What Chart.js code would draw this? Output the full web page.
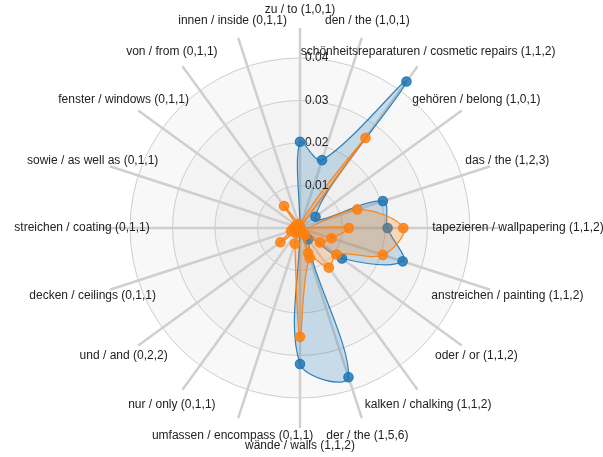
<!DOCTYPE html>
<html>
<head>
<meta charset="utf-8">
<title>Radar</title>
<script src="https://cdn.jsdelivr.net/npm/chart.js@4.4.0/dist/chart.umd.min.js"></script>
<style>
  html, body { margin: 0; padding: 0; background: #fff; }
  #wrap { width: 603px; height: 457px; }
</style>
</head>
<body>
<div id="wrap"><canvas id="chart" width="603" height="457"></canvas></div>
<script>
// categories, clockwise from the top
const categories = [
  "zu / to (1,0,1)",
  "den / the (1,0,1)",
  "schönheitsreparaturen / cosmetic repairs (1,1,2)",
  "gehören / belong (1,0,1)",
  "das / the (1,2,3)",
  "tapezieren / wallpapering (1,1,2)",
  "anstreichen / painting (1,1,2)",
  "oder / or (1,1,2)",
  "kalken / chalking (1,1,2)",
  "der / the (1,5,6)",
  "wände / walls (1,1,2)",
  "umfassen / encompass (0,1,1)",
  "nur / only (0,1,1)",
  "und / and (0,2,2)",
  "decken / ceilings (0,1,1)",
  "streichen / coating (0,1,1)",
  "sowie / as well as (0,1,1)",
  "fenster / windows (0,1,1)",
  "von / from (0,1,1)",
  "innen / inside (0,1,1)"
];

// values
const blueValues = [0.0203, 0.0168, 0.0426, 0.0045, 0.0205, 0.0206, 0.0254, 0.0122, 0.0033, 0.0369,
                    0.0320, 0, 0, 0, 0, 0, 0, 0, 0, 0];
const orangeValues = [0, 0, 0.0262, 0, 0.0142, 0.0243, 0.0205, 0.0106, 0.0115, 0.0074,
                      0.0256, 0.0039, 0.0015, 0.0057, 0.0022, 0.0015, 0.0012, 0.001, 0.0064, 0.001];
const orangeInnerValues = [0, 0, 0, 0, 0, 0.0115, 0.0078, 0.0058, 0.002, 0.0062,
                           0, 0, 0, 0, 0, 0, 0, 0, 0, 0];

const tickValues = [0.01, 0.02, 0.03, 0.04];
const tickLabels = ["0.01", "0.02", "0.03", "0.04"];
const axisMax = 0.04706; // spokes run a bit past the 0.04 ring

const FONT = '"Liberation Sans", Arial, Helvetica, sans-serif';
Chart.defaults.font.family = FONT;

// shaded rings, tick labels and centred spoke labels
const radarDecor = {
  id: "radarDecor",
  beforeDraw(chart) {
    const r = chart.scales.r;
    const ctx = chart.ctx;
    const shades = ["#ededed", "#f0f0f0", "#f4f4f4", "#f8f8f8"];
    ctx.save();
    for (let i = tickValues.length - 1; i >= 0; i--) {
      ctx.beginPath();
      ctx.arc(r.xCenter, r.yCenter, r.getDistanceFromCenterForValue(tickValues[i]), 0, Math.PI * 2);
      ctx.fillStyle = shades[i];
      ctx.fill();
    }
    ctx.restore();
  },
  afterDraw(chart) {
    const r = chart.scales.r;
    const ctx = chart.ctx;
    ctx.save();
    ctx.font = "12px " + FONT;
    ctx.fillStyle = "#222";
    ctx.textBaseline = "middle";

    ctx.textAlign = "left";
    tickValues.forEach((v, i) => {
      ctx.fillText(tickLabels[i], r.xCenter + 5, r.yCenter - r.getDistanceFromCenterForValue(v));
    });

    ctx.textAlign = "center";
    const labelDist = r.drawingArea + 18;
    categories.forEach((label, i) => {
      const p = r.getPointPosition(i, labelDist);
      ctx.fillText(label, p.x, p.y);
    });
    ctx.restore();
  }
};

new Chart(document.getElementById("chart"), {
  type: "radar",
  data: {
    labels: categories,
    datasets: [
      {
        label: "B2",
        data: orangeInnerValues,
        borderColor: "rgba(255,127,14,0.9)",
        backgroundColor: "rgba(255,127,14,0.2)",
        pointBackgroundColor: "rgba(255,127,14,0.85)",
        borderWidth: 1.3
      },
      {
        label: "B",
        data: orangeValues,
        borderColor: "rgba(255,127,14,0.9)",
        backgroundColor: "rgba(255,127,14,0.24)",
        pointBackgroundColor: "rgba(255,127,14,0.85)",
        borderWidth: 1.3
      },
      {
        label: "A",
        data: blueValues,
        borderColor: "rgba(31,119,180,0.9)",
        backgroundColor: "rgba(31,119,180,0.22)",
        pointBackgroundColor: "rgba(31,119,180,0.85)",
        borderWidth: 1.2
      }
    ]
  },
  options: {
    responsive: false,
    devicePixelRatio: 1,
    animation: false,
    layout: { padding: { top: 28, bottom: 29, left: 0, right: 3 } },
    elements: {
      line: { tension: 0.36 },
      point: { radius: 4.7, borderWidth: 0, hoverRadius: 4.7 }
    },
    plugins: {
      legend: { display: false },
      tooltip: { enabled: false }
    },
    scales: {
      r: {
        min: 0,
        max: axisMax,
        beginAtZero: true,
        ticks: { display: false, stepSize: 0.01 },
        pointLabels: { display: false },
        grid: {
          circular: true,
          lineWidth: 1,
          color: (c) => (c.tick && c.tick.value > 0.0405 ? "rgba(0,0,0,0)" : "#cdcdcd")
        },
        angleLines: { color: "#cfcfcf", lineWidth: 2.5 }
      }
    }
  },
  plugins: [radarDecor]
});
</script>
</body>
</html>
